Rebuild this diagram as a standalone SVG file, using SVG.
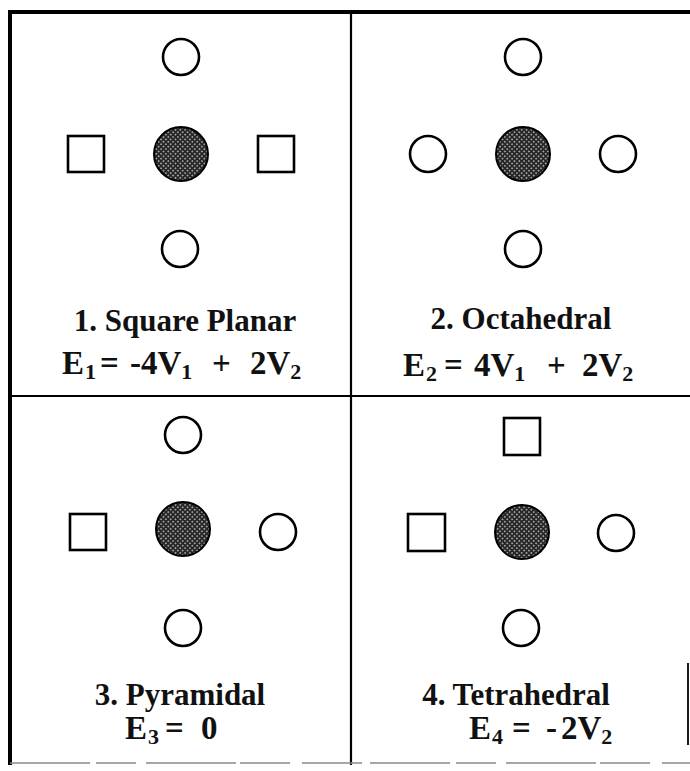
<svg xmlns="http://www.w3.org/2000/svg" width="690" height="771" viewBox="0 0 690 771">
<style>
.open{fill:#fff;stroke:#000;stroke-width:2.6}
.atom{fill:url(#dots);stroke:#000;stroke-width:2}
.t{font-family:"Liberation Serif","Times New Roman",serif;font-weight:bold;fill:#111}
.title{font-size:31px;text-anchor:middle}
.eq{font-size:33px}
.sub{font-size:22px}
.frame{stroke:#000;fill:none}
</style>
<defs>
<pattern id="dots" width="3.4" height="3.4" patternUnits="userSpaceOnUse" patternTransform="rotate(45)">
<rect width="3.4" height="3.4" fill="#262626"/>
<circle cx="1.7" cy="1.7" r="0.75" fill="#d8d8d8"/>
</pattern>
</defs>
<rect width="690" height="771" fill="#fff"/>
<g id="frame">
<line class="frame" x1="10" y1="12" x2="690" y2="12" stroke-width="4"/>
<line class="frame" x1="10" y1="10" x2="10" y2="765" stroke-width="4"/>
<line class="frame" x1="351" y1="12" x2="351" y2="765" stroke-width="2.2"/>
<line class="frame" x1="10" y1="396" x2="690" y2="396" stroke-width="2.2"/>
<line x1="10" y1="763" x2="690" y2="763" stroke="#8a8a8a" stroke-width="1.4" stroke-dasharray="80 6 40 10 90 4 50 12 60 8"/>
<line class="frame" x1="688" y1="663" x2="688" y2="745" stroke-width="1.8"/>
</g>
<g id="panel1">
<circle class="open" cx="181" cy="57" r="18"/>
<rect class="open" x="68" y="136" width="36" height="36"/>
<circle class="atom" cx="181" cy="154" r="27"/>
<rect class="open" x="258" y="136" width="36" height="36"/>
<circle class="open" cx="180" cy="249" r="18"/>
<text class="t title" x="185" y="331">1. Square Planar</text>
<text class="t eq" y="374"><tspan x="62">E</tspan><tspan class="sub" dx="1" dy="5">1</tspan><tspan x="100" dy="-5">=</tspan><tspan x="130">-4V</tspan><tspan class="sub" dy="5">1</tspan><tspan x="212" dy="-5">+</tspan><tspan x="250">2V</tspan><tspan class="sub" dy="5">2</tspan></text>
</g>
<g id="panel2">
<circle class="open" cx="523" cy="57" r="18"/>
<circle class="open" cx="428" cy="154" r="18"/>
<circle class="atom" cx="523" cy="154" r="27"/>
<circle class="open" cx="618" cy="154" r="18"/>
<circle class="open" cx="523" cy="249" r="18"/>
<text class="t title" x="521" y="329">2. Octahedral</text>
<text class="t eq" y="376"><tspan x="403">E</tspan><tspan class="sub" dx="1" dy="5">2</tspan><tspan x="444" dy="-5">=</tspan><tspan x="474">4V</tspan><tspan class="sub" dy="5">1</tspan><tspan x="547" dy="-5">+</tspan><tspan x="582">2V</tspan><tspan class="sub" dy="5">2</tspan></text>
</g>
<g id="panel3">
<circle class="open" cx="183" cy="435" r="18"/>
<rect class="open" x="70" y="514" width="36" height="36"/>
<circle class="atom" cx="183" cy="529" r="27"/>
<circle class="open" cx="278" cy="532" r="18"/>
<circle class="open" cx="183" cy="628" r="18"/>
<text class="t title" x="180" y="705">3. Pyramidal</text>
<text class="t eq" y="739"><tspan x="125">E</tspan><tspan class="sub" dx="1" dy="5">3</tspan><tspan x="165" dy="-5">=</tspan><tspan x="201">0</tspan></text>
</g>
<g id="panel4">
<rect class="open" x="504" y="418" width="36" height="37"/>
<rect class="open" x="408" y="514" width="37" height="37"/>
<circle class="atom" cx="522" cy="532" r="27"/>
<circle class="open" cx="616" cy="533" r="18"/>
<circle class="open" cx="521" cy="628" r="18"/>
<text class="t title" x="516" y="705">4. Tetrahedral</text>
<text class="t eq" y="739"><tspan x="469">E</tspan><tspan class="sub" dx="1" dy="5">4</tspan><tspan x="512" dy="-5">=</tspan><tspan x="546">-</tspan><tspan x="561">2V</tspan><tspan class="sub" dy="5">2</tspan></text>
</g>
</svg>
